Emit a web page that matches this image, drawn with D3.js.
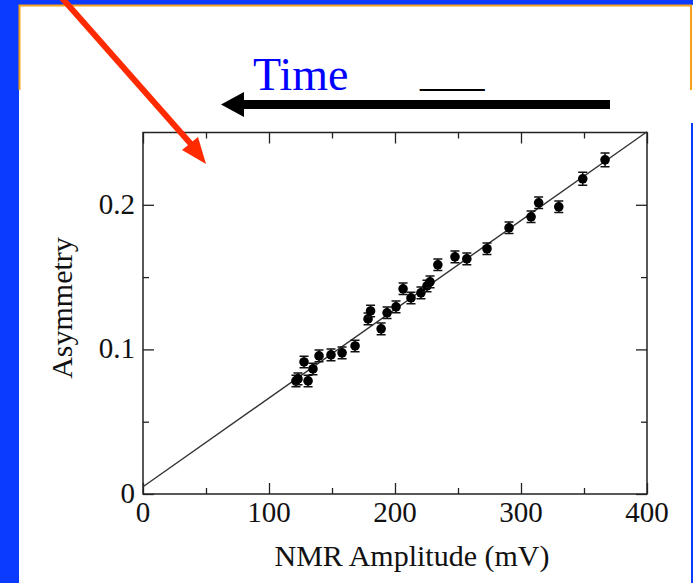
<!DOCTYPE html>
<html>
<head>
<meta charset="utf-8">
<script src="https://cdn.jsdelivr.net/npm/d3@7"></script>
<style>
  body { margin: 0; background: #0b3bff; }
  svg { display: block; }
</style>
</head>
<body>
<svg id="chart" width="693" height="583"></svg>
<script>
var amplitude = [121.4, 123.0, 127.8, 131.0, 134.9, 139.7, 149.2, 158.0, 168.3,
    178.6, 180.6, 189.0, 193.7, 200.8, 206.4, 212.7, 220.6, 225.4, 227.8,
    234.0, 247.6, 257.0, 273.0, 290.5, 308.0, 314.0, 330.0, 349.0, 366.7];
var asymmetry = [0.0782, 0.0796, 0.0913, 0.0782, 0.0865, 0.0955, 0.0962, 0.0976, 0.1024,
    0.1211, 0.1266, 0.1142, 0.1253, 0.1294, 0.1419, 0.1356, 0.1391, 0.1439, 0.1467,
    0.1585, 0.1640, 0.1626, 0.1696, 0.1841, 0.1917, 0.2014, 0.1986, 0.2180, 0.2311];
var asymErr = [0.004, 0.004, 0.004, 0.004, 0.004, 0.004, 0.004, 0.004, 0.004,
    0.004, 0.004, 0.004, 0.004, 0.004, 0.004, 0.004, 0.004, 0.004, 0.004,
    0.004, 0.004, 0.004, 0.004, 0.004, 0.004, 0.004, 0.004, 0.0045, 0.0048];

// linear fit
var fitX = [0, 400];
var fitY = [0.005, 0.2505];

var xTicks = [0, 100, 200, 300, 400];
var xMinor = [50, 150, 250, 350];
var yTicks = [0, 0.1, 0.2];
var yTickLabels = ["0", "0.1", "0.2"];
var yMinor = [0.05, 0.15];

function build_slide()
{
    var svg = d3.select("#chart");

    // slide background
    svg.append("rect").attr("x", 0).attr("y", 0).attr("width", 693).attr("height", 583)
        .attr("fill", "#0b3bff");
    svg.append("rect").attr("x", 19).attr("y", 5).attr("width", 674).attr("height", 578)
        .attr("fill", "#ffffff");
    svg.append("path")
        .attr("d", "M19.5,90 V5.5 H691 V90")
        .attr("fill", "none")
        .attr("stroke", "#f5a21b")
        .attr("stroke-width", 2);
    svg.append("rect").attr("x", 691).attr("y", 123).attr("width", 2).attr("height", 460)
        .attr("fill", "#0b3bff");

    // "Time" with arrow
    svg.append("text")
        .attr("x", 253).attr("y", 90)
        .text("Time")
        .style("font-family", "Liberation Serif")
        .style("font-size", "46px")
        .attr("fill", "#0000ff");
    svg.append("text")
        .attr("x", 420).attr("y", 86)
        .text("___")
        .style("font-family", "Liberation Serif")
        .style("font-size", "43px")
        .attr("fill", "#000");
    svg.append("rect").attr("x", 240).attr("y", 100).attr("width", 370).attr("height", 9)
        .attr("fill", "#000");
    svg.append("path").attr("d", "M221,104.5 L244,92 L244,117 Z").attr("fill", "#000");

    var g = svg.append("g");
    var x = d3.scaleLinear().domain([0, 400]).range([143, 647]);
    var y = d3.scaleLinear().domain([0, 0.25]).range([494, 132.5]);

    // frame with inward ticks on all four sides
    g.append("rect")
        .attr("x", 143).attr("y", 132.5).attr("width", 504).attr("height", 361.5)
        .attr("fill", "none").attr("stroke", "#222").attr("stroke-width", 1.5);

    g.append("g").attr("transform", "translate(0,494)")
        .call(d3.axisBottom(x).tickValues(xTicks).tickSize(-11).tickFormat(""));
    g.append("g").attr("transform", "translate(0,494)")
        .call(d3.axisBottom(x).tickValues(xMinor).tickSize(-6).tickFormat(""));
    g.append("g").attr("transform", "translate(0,132.5)")
        .call(d3.axisTop(x).tickValues(xTicks).tickSize(-11).tickFormat(""));
    g.append("g").attr("transform", "translate(0,132.5)")
        .call(d3.axisTop(x).tickValues(xMinor).tickSize(-6).tickFormat(""));
    g.append("g").attr("transform", "translate(143,0)")
        .call(d3.axisLeft(y).tickValues(yTicks).tickSize(-11).tickFormat(""));
    g.append("g").attr("transform", "translate(143,0)")
        .call(d3.axisLeft(y).tickValues(yMinor).tickSize(-6).tickFormat(""));
    g.append("g").attr("transform", "translate(647,0)")
        .call(d3.axisRight(y).tickValues(yTicks).tickSize(-11).tickFormat(""));
    g.append("g").attr("transform", "translate(647,0)")
        .call(d3.axisRight(y).tickValues(yMinor).tickSize(-6).tickFormat(""));
    g.selectAll(".domain").remove();
    g.selectAll(".tick line").attr("stroke", "#222").attr("stroke-width", 1.3);

    // tick labels
    g.selectAll(".xlab").data(xTicks).enter().append("text")
        .attr("x", function(d) { return x(d); })
        .attr("y", 522)
        .attr("text-anchor", "middle")
        .text(function(d) { return d; })
        .style("font-family", "Liberation Serif")
        .style("font-size", "29px")
        .attr("fill", "#111");
    g.selectAll(".ylab").data(yTicks).enter().append("text")
        .attr("x", 135)
        .attr("y", function(d) { return y(d) + 9; })
        .attr("text-anchor", "end")
        .text(function(d, i) { return yTickLabels[i]; })
        .style("font-family", "Liberation Serif")
        .style("font-size", "29px")
        .attr("fill", "#111");

    // axis titles
    g.append("text")
        .attr("x", 412).attr("y", 566)
        .attr("text-anchor", "middle")
        .text("NMR Amplitude (mV)")
        .style("font-family", "Liberation Serif")
        .style("font-size", "30px")
        .attr("fill", "#111");
    g.append("text")
        .attr("transform", "translate(72,308) rotate(-90)")
        .attr("text-anchor", "middle")
        .text("Asymmetry")
        .style("font-family", "Liberation Serif")
        .style("font-size", "30px")
        .attr("fill", "#111");

    // fit line
    var line = d3.line()
        .x(function(d) { return x(d[0]); })
        .y(function(d) { return y(d[1]); });
    g.append("path")
        .datum(d3.zip(fitX, fitY))
        .attr("d", line)
        .attr("fill", "none")
        .attr("stroke", "#333")
        .attr("stroke-width", 1.4);

    // data with error bars
    var pts = g.selectAll(".pt").data(d3.range(amplitude.length)).enter().append("g");
    pts.append("path")
        .attr("d", function(i) {
            var cx = x(amplitude[i]),
                top = y(asymmetry[i] + asymErr[i]),
                bot = y(asymmetry[i] - asymErr[i]);
            return "M" + (cx - 4.5) + "," + top + "H" + (cx + 4.5) +
                "M" + cx + "," + top + "V" + bot +
                "M" + (cx - 4.5) + "," + bot + "H" + (cx + 4.5);
        })
        .attr("fill", "none")
        .attr("stroke", "#111")
        .attr("stroke-width", 1.5);
    pts.append("circle")
        .attr("cx", function(i) { return x(amplitude[i]); })
        .attr("cy", function(i) { return y(asymmetry[i]); })
        .attr("r", 4.8)
        .attr("fill", "#000");

    // red pointer arrow
    svg.append("line")
        .attr("x1", 62).attr("y1", -2).attr("x2", 198).attr("y2", 152)
        .attr("stroke", "#ff2a00").attr("stroke-width", 6);
    svg.append("path")
        .attr("d", "M206,164 L182,150 L198,137 Z")
        .attr("fill", "#ff2a00");
}

build_slide();
</script>
</body>
</html>
